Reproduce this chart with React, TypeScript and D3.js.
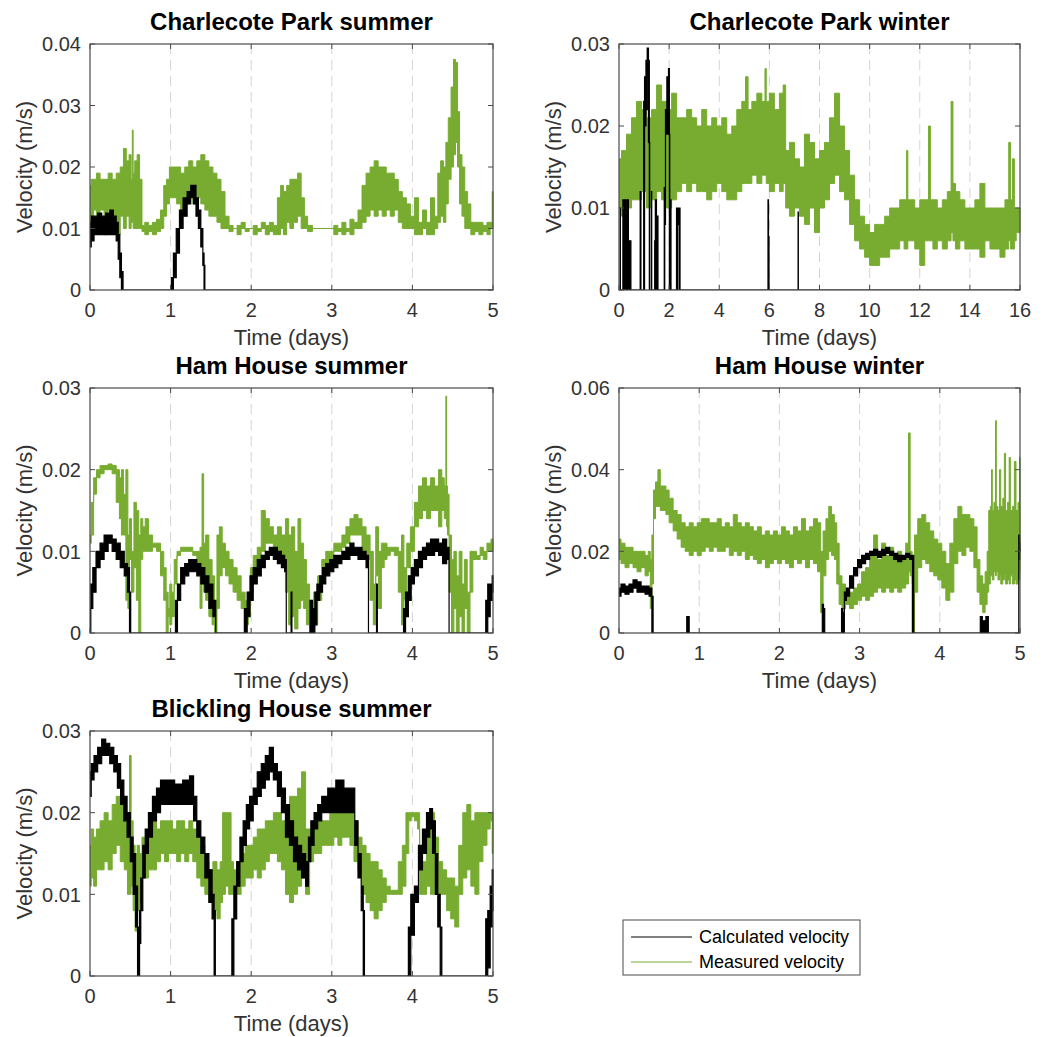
import React from 'react';
import * as d3 from 'd3';

// each row: [time (days), low velocity, high velocity] of the trace band (m/s)
const charlecoteSummerMeasured = [
  [0, 0.010, 0.017], [0.03, 0.012, 0.018], [0.06, 0.013, 0.018], [0.1, 0.012, 0.019], [0.15, 0.013, 0.018],
  [0.2, 0.009, 0.018], [0.25, 0.013, 0.019], [0.3, 0.012, 0.018], [0.35, 0.009, 0.019], [0.4, 0.012, 0.020],
  [0.43, 0.010, 0.023], [0.47, 0.012, 0.021], [0.5, 0.010, 0.022], [0.52, 0.011, 0.018], [0.53, 0.011, 0.026],
  [0.54, 0.010, 0.019], [0.57, 0.010, 0.021], [0.6, 0.010, 0.022], [0.63, 0.010, 0.018], [0.66, 0.0095, 0.0105],
  [0.7, 0.009, 0.011], [0.75, 0.0095, 0.0105], [0.8, 0.009, 0.011], [0.85, 0.0095, 0.0115], [0.9, 0.010, 0.013],
  [0.93, 0.012, 0.017], [0.97, 0.014, 0.018], [1.0, 0.015, 0.020], [1.05, 0.015, 0.020], [1.1, 0.014, 0.020],
  [1.15, 0.013, 0.019], [1.2, 0.014, 0.020], [1.25, 0.015, 0.021], [1.3, 0.014, 0.020], [1.35, 0.015, 0.021],
  [1.4, 0.014, 0.022], [1.45, 0.013, 0.021], [1.5, 0.012, 0.020], [1.55, 0.012, 0.019], [1.6, 0.011, 0.018],
  [1.65, 0.010, 0.016], [1.7, 0.010, 0.012], [1.75, 0.0095, 0.0105], [1.8, 0.010, 0.010], [1.85, 0.009, 0.0105],
  [1.9, 0.010, 0.011], [1.95, 0.0095, 0.010], [2.0, 0.010, 0.010], [2.05, 0.009, 0.0105], [2.1, 0.0095, 0.010],
  [2.15, 0.010, 0.011], [2.2, 0.009, 0.0105], [2.25, 0.0095, 0.011], [2.3, 0.009, 0.0105], [2.35, 0.009, 0.015],
  [2.38, 0.010, 0.017], [2.42, 0.009, 0.016], [2.46, 0.011, 0.017], [2.5, 0.010, 0.018], [2.55, 0.011, 0.018],
  [2.6, 0.012, 0.019], [2.64, 0.010, 0.015], [2.68, 0.010, 0.012], [2.72, 0.0095, 0.0105], [2.8, 0.010, 0.010],
  [2.9, 0.010, 0.010], [3.0, 0.010, 0.010], [3.05, 0.009, 0.0105], [3.1, 0.0095, 0.010], [3.15, 0.009, 0.011],
  [3.2, 0.0095, 0.010], [3.25, 0.009, 0.0115], [3.3, 0.010, 0.011], [3.35, 0.010, 0.013], [3.4, 0.011, 0.017],
  [3.45, 0.012, 0.019], [3.5, 0.013, 0.020], [3.55, 0.012, 0.021], [3.6, 0.013, 0.020], [3.65, 0.012, 0.020],
  [3.7, 0.013, 0.019], [3.75, 0.012, 0.019], [3.8, 0.013, 0.018], [3.85, 0.011, 0.016], [3.9, 0.010, 0.015],
  [3.95, 0.010, 0.014], [4.0, 0.010, 0.012], [4.05, 0.009, 0.015], [4.1, 0.009, 0.011], [4.15, 0.010, 0.013],
  [4.2, 0.009, 0.011], [4.25, 0.009, 0.015], [4.3, 0.010, 0.012], [4.33, 0.011, 0.019], [4.37, 0.012, 0.021],
  [4.4, 0.011, 0.020], [4.43, 0.014, 0.024], [4.46, 0.018, 0.028], [4.5, 0.020, 0.033], [4.52, 0.022, 0.0375],
  [4.55, 0.024, 0.037], [4.57, 0.020, 0.029], [4.6, 0.014, 0.022], [4.63, 0.012, 0.020], [4.67, 0.010, 0.016],
  [4.7, 0.010, 0.014], [4.75, 0.009, 0.011], [4.8, 0.0095, 0.011], [4.85, 0.009, 0.011], [4.9, 0.0095, 0.0105],
  [4.95, 0.009, 0.011], [4.98, 0.010, 0.011], [5.0, 0.010, 0.016],
];

const charlecoteSummerCalculated = [
  [0, 0.007, 0.011], [0.03, 0.008, 0.012], [0.07, 0.009, 0.012], [0.12, 0.009, 0.0125], [0.17, 0.009, 0.012],
  [0.22, 0.009, 0.0125], [0.27, 0.009, 0.013], [0.31, 0.009, 0.012], [0.34, 0.008, 0.011], [0.36, 0.005, 0.009],
  [0.38, 0.002, 0.006], [0.4, 0, 0.003], [0.42, 0, 0], [1.0, 0, 0], [1.02, 0, 0.002], [1.05, 0.002, 0.006],
  [1.09, 0.006, 0.010], [1.13, 0.010, 0.013], [1.18, 0.012, 0.015], [1.23, 0.014, 0.016], [1.27, 0.015, 0.017],
  [1.3, 0.014, 0.017], [1.33, 0.012, 0.015], [1.36, 0.010, 0.013], [1.39, 0.007, 0.010], [1.41, 0.004, 0.006],
  [1.42, 0, 0.004], [1.43, 0, 0], [5, 0, 0],
];

const charlecoteWinterMeasured = [
  [0, 0.010, 0.016], [0.2, 0.009, 0.017], [0.4, 0.010, 0.019], [0.6, 0.011, 0.021], [0.8, 0.011, 0.023],
  [1.0, 0.012, 0.022], [1.2, 0.010, 0.021], [1.4, 0.011, 0.022], [1.6, 0.012, 0.025], [1.8, 0.011, 0.023],
  [2.0, 0.010, 0.022], [2.2, 0.011, 0.024], [2.4, 0.012, 0.021], [2.6, 0.013, 0.021], [2.8, 0.012, 0.022],
  [3.0, 0.013, 0.021], [3.2, 0.012, 0.020], [3.4, 0.012, 0.022], [3.6, 0.011, 0.020], [3.8, 0.012, 0.021],
  [4.0, 0.013, 0.020], [4.2, 0.012, 0.021], [4.4, 0.011, 0.019], [4.6, 0.011, 0.020], [4.8, 0.012, 0.022],
  [5.0, 0.013, 0.023], [5.1, 0.013, 0.026], [5.2, 0.013, 0.022], [5.4, 0.014, 0.023], [5.6, 0.013, 0.024],
  [5.8, 0.014, 0.023], [5.85, 0.014, 0.027], [5.9, 0.013, 0.023], [6.1, 0.012, 0.024], [6.3, 0.013, 0.022],
  [6.5, 0.012, 0.024], [6.6, 0.013, 0.025], [6.7, 0.010, 0.017], [6.9, 0.009, 0.018], [7.1, 0.010, 0.016],
  [7.3, 0.009, 0.015], [7.5, 0.008, 0.019], [7.7, 0.010, 0.018], [7.9, 0.007, 0.016], [8.1, 0.010, 0.017],
  [8.3, 0.011, 0.018], [8.5, 0.013, 0.021], [8.7, 0.014, 0.024], [8.9, 0.012, 0.020], [9.1, 0.011, 0.017],
  [9.3, 0.008, 0.014], [9.5, 0.006, 0.011], [9.7, 0.005, 0.009], [9.9, 0.004, 0.008], [10.1, 0.003, 0.007],
  [10.3, 0.003, 0.008], [10.5, 0.004, 0.008], [10.7, 0.004, 0.009], [10.9, 0.005, 0.010], [11.1, 0.005, 0.010],
  [11.3, 0.006, 0.011], [11.45, 0.005, 0.011], [11.5, 0.005, 0.017], [11.55, 0.006, 0.011], [11.7, 0.006, 0.011],
  [11.9, 0.005, 0.010], [12.1, 0.003, 0.011], [12.3, 0.006, 0.011], [12.4, 0.006, 0.020], [12.45, 0.006, 0.011],
  [12.6, 0.005, 0.011], [12.8, 0.006, 0.010], [13.0, 0.005, 0.011], [13.2, 0.006, 0.012], [13.3, 0.007, 0.023],
  [13.35, 0.006, 0.013], [13.5, 0.005, 0.012], [13.7, 0.006, 0.011], [13.9, 0.005, 0.010], [14.1, 0.005, 0.010],
  [14.3, 0.005, 0.011], [14.5, 0.004, 0.013], [14.7, 0.006, 0.010], [14.9, 0.005, 0.010], [15.1, 0.005, 0.010],
  [15.3, 0.004, 0.010], [15.5, 0.005, 0.011], [15.6, 0.006, 0.018], [15.65, 0.005, 0.011], [15.75, 0.005, 0.016],
  [15.8, 0.006, 0.010], [15.9, 0.007, 0.010], [16, 0.007, 0.010],
];

const charlecoteWinterCalculated = [
  [0, 0, 0], [0.04, 0, 0], [0.05, 0, 0.010], [0.06, 0, 0], [0.15, 0, 0], [0.16, 0, 0.011], [0.2, 0, 0.008],
  [0.25, 0, 0.011], [0.3, 0, 0.009], [0.35, 0, 0.011], [0.4, 0, 0.006], [0.47, 0, 0.006], [0.48, 0, 0],
  [0.84, 0, 0], [0.85, 0, 0.012], [0.87, 0.008, 0.012], [0.88, 0, 0], [0.98, 0, 0], [0.99, 0, 0.023],
  [1.05, 0.020, 0.026], [1.1, 0.022, 0.028], [1.15, 0.026, 0.0295], [1.2, 0.018, 0.028], [1.22, 0, 0.018],
  [1.23, 0, 0], [1.29, 0, 0], [1.3, 0, 0.012], [1.31, 0, 0], [1.42, 0, 0], [1.43, 0, 0.006], [1.47, 0, 0.011],
  [1.52, 0, 0.009], [1.55, 0, 0.009], [1.56, 0, 0], [1.8, 0, 0], [1.81, 0, 0.0125], [1.84, 0.008, 0.0125],
  [1.87, 0.019, 0.022], [1.95, 0.019, 0.026], [2.0, 0.019, 0.027], [2.02, 0, 0.019], [2.03, 0, 0],
  [2.06, 0, 0], [2.07, 0, 0.011], [2.08, 0, 0], [2.29, 0, 0], [2.3, 0, 0.010], [2.38, 0.008, 0.010],
  [2.43, 0, 0.010], [2.44, 0, 0], [5.94, 0, 0], [5.95, 0, 0.011], [5.98, 0, 0.0065], [5.99, 0, 0],
  [7.14, 0, 0], [7.15, 0, 0.0095], [7.16, 0, 0], [16, 0, 0],
];

const hamSummerMeasured = [
  [0, 0.011, 0.012], [0.03, 0.012, 0.016], [0.06, 0.017, 0.019], [0.1, 0.019, 0.020], [0.15, 0.0195, 0.0205],
  [0.2, 0.020, 0.0205], [0.25, 0.020, 0.0207], [0.3, 0.0195, 0.0205], [0.35, 0.016, 0.020], [0.38, 0.014, 0.019],
  [0.4, 0.012, 0.020], [0.43, 0.012, 0.017], [0.46, 0.004, 0.020], [0.48, 0.003, 0.012], [0.5, 0.009, 0.014],
  [0.53, 0.005, 0.010], [0.56, 0.008, 0.016], [0.59, 0.004, 0.015], [0.62, 0, 0.012], [0.64, 0.009, 0.014],
  [0.67, 0.010, 0.013], [0.7, 0.010, 0.014], [0.75, 0.010, 0.012], [0.8, 0.0105, 0.011], [0.85, 0.010, 0.011],
  [0.9, 0.007, 0.010], [0.93, 0.004, 0.008], [0.96, 0, 0.005], [0.98, 0.002, 0.003], [1.0, 0.001, 0.006],
  [1.03, 0.002, 0.005], [1.06, 0.006, 0.009], [1.1, 0.0095, 0.010], [1.15, 0.010, 0.0105], [1.2, 0.010, 0.0105],
  [1.25, 0.010, 0.0105], [1.3, 0.0095, 0.010], [1.35, 0.008, 0.010], [1.38, 0.003, 0.0105], [1.4, 0.008, 0.0195],
  [1.42, 0.005, 0.011], [1.45, 0.004, 0.012], [1.5, 0.002, 0.009], [1.53, 0.001, 0.007], [1.56, 0, 0.004],
  [1.59, 0.003, 0.012], [1.62, 0.007, 0.013], [1.66, 0.008, 0.011], [1.7, 0.007, 0.010], [1.75, 0.006, 0.009],
  [1.8, 0.005, 0.008], [1.85, 0.004, 0.007], [1.9, 0.003, 0.005], [1.95, 0.001, 0.004], [1.98, 0.002, 0.005],
  [2.0, 0.005, 0.008], [2.05, 0.007, 0.0095], [2.1, 0.009, 0.0105], [2.15, 0.010, 0.015], [2.2, 0.011, 0.014],
  [2.25, 0.011, 0.013], [2.3, 0.010, 0.012], [2.35, 0.010, 0.013], [2.4, 0.009, 0.012], [2.45, 0.005, 0.014],
  [2.48, 0.001, 0.012], [2.52, 0.002, 0.013], [2.56, 0.0005, 0.010], [2.6, 0.003, 0.014], [2.63, 0.004, 0.011],
  [2.67, 0.003, 0.009], [2.7, 0.001, 0.006], [2.75, 0, 0.004], [2.8, 0.001, 0.005], [2.85, 0.004, 0.007],
  [2.9, 0.007, 0.009], [2.95, 0.008, 0.010], [3.0, 0.009, 0.010], [3.05, 0.010, 0.011], [3.1, 0.010, 0.011],
  [3.15, 0.0105, 0.012], [3.2, 0.011, 0.013], [3.25, 0.012, 0.014], [3.3, 0.012, 0.0145], [3.35, 0.012, 0.014],
  [3.4, 0.010, 0.013], [3.45, 0.009, 0.012], [3.5, 0.004, 0.010], [3.53, 0.001, 0.006], [3.56, 0.007, 0.013],
  [3.6, 0.003, 0.010], [3.63, 0.008, 0.011], [3.67, 0.009, 0.011], [3.7, 0.0095, 0.0105], [3.75, 0.010, 0.0105],
  [3.8, 0.0095, 0.0105], [3.85, 0.005, 0.010], [3.88, 0.001, 0.012], [3.91, 0.004, 0.008], [3.95, 0.008, 0.011],
  [4.0, 0.010, 0.013], [4.05, 0.013, 0.016], [4.1, 0.014, 0.018], [4.15, 0.015, 0.019], [4.2, 0.014, 0.018],
  [4.25, 0.015, 0.019], [4.3, 0.015, 0.018], [4.35, 0.013, 0.020], [4.38, 0.015, 0.019], [4.41, 0.014, 0.018],
  [4.42, 0.014, 0.029], [4.43, 0.013, 0.018], [4.44, 0.012, 0.017], [4.47, 0.005, 0.012], [4.5, 0, 0.009],
  [4.53, 0.003, 0.010], [4.56, 0, 0.007], [4.6, 0.002, 0.010], [4.63, 0, 0.006], [4.66, 0.003, 0.009],
  [4.7, 0, 0.005], [4.73, 0.005, 0.010], [4.77, 0.009, 0.010], [4.82, 0.009, 0.0095], [4.86, 0.0095, 0.0105],
  [4.9, 0.009, 0.010], [4.95, 0.010, 0.011], [5.0, 0.010, 0.0115],
];

const hamSummerCalculated = [
  [0, 0, 0.003], [0.02, 0.003, 0.006], [0.05, 0.005, 0.008], [0.1, 0.008, 0.010], [0.15, 0.009, 0.011],
  [0.2, 0.010, 0.012], [0.25, 0.011, 0.012], [0.3, 0.010, 0.0115], [0.35, 0.009, 0.011], [0.4, 0.008, 0.010],
  [0.45, 0.007, 0.0085], [0.48, 0.005, 0.008], [0.5, 0, 0.005], [0.51, 0, 0], [1.05, 0, 0], [1.07, 0, 0.004],
  [1.1, 0.004, 0.006], [1.15, 0.006, 0.008], [1.2, 0.007, 0.0085], [1.25, 0.0075, 0.009], [1.3, 0.0075, 0.009],
  [1.35, 0.007, 0.0085], [1.4, 0.006, 0.008], [1.45, 0.005, 0.007], [1.5, 0.003, 0.006], [1.55, 0.002, 0.004],
  [1.57, 0, 0], [1.9, 0, 0], [1.93, 0, 0.003], [1.97, 0.002, 0.005], [2.0, 0.004, 0.007], [2.05, 0.006, 0.008],
  [2.1, 0.007, 0.009], [2.15, 0.008, 0.0095], [2.2, 0.009, 0.010], [2.25, 0.0095, 0.0105], [2.3, 0.009, 0.0105],
  [2.35, 0.0085, 0.010], [2.4, 0.008, 0.0095], [2.43, 0.0075, 0.009], [2.44, 0, 0], [2.49, 0, 0],
  [2.5, 0.003, 0.005], [2.51, 0, 0], [2.72, 0, 0], [2.74, 0, 0.004], [2.78, 0, 0.003], [2.8, 0.001, 0.005],
  [2.83, 0.004, 0.006], [2.87, 0.005, 0.007], [2.9, 0.006, 0.008], [2.95, 0.007, 0.0085], [3.0, 0.0075, 0.009],
  [3.05, 0.008, 0.0095], [3.1, 0.0085, 0.0095], [3.15, 0.009, 0.010], [3.2, 0.009, 0.0105], [3.25, 0.0095, 0.011],
  [3.3, 0.0095, 0.0105], [3.35, 0.009, 0.0105], [3.4, 0.009, 0.010], [3.45, 0.008, 0.0095], [3.46, 0, 0],
  [3.55, 0, 0], [3.56, 0, 0.006], [3.57, 0, 0], [3.88, 0, 0], [3.9, 0, 0.003], [3.93, 0.002, 0.005],
  [3.97, 0.004, 0.007], [4.0, 0.006, 0.008], [4.05, 0.007, 0.009], [4.1, 0.008, 0.010], [4.15, 0.009, 0.0105],
  [4.2, 0.0095, 0.011], [4.25, 0.0095, 0.0115], [4.3, 0.010, 0.0115], [4.35, 0.0095, 0.011], [4.4, 0.0085, 0.0115],
  [4.45, 0.009, 0.0105], [4.46, 0, 0], [4.9, 0, 0], [4.92, 0, 0.004], [4.95, 0.002, 0.006], [4.98, 0.004, 0.006],
  [5.0, 0.005, 0.007],
];

const hamWinterMeasured = [
  [0, 0.018, 0.023], [0.05, 0.017, 0.022], [0.1, 0.016, 0.021], [0.15, 0.017, 0.021], [0.2, 0.016, 0.020],
  [0.25, 0.015, 0.020], [0.3, 0.016, 0.020], [0.35, 0.014, 0.019], [0.38, 0.015, 0.020], [0.4, 0.006, 0.018],
  [0.42, 0.012, 0.024], [0.44, 0.028, 0.035], [0.47, 0.031, 0.037], [0.5, 0.031, 0.040], [0.53, 0.030, 0.036],
  [0.57, 0.030, 0.036], [0.6, 0.029, 0.035], [0.65, 0.027, 0.033], [0.7, 0.025, 0.030], [0.75, 0.023, 0.029],
  [0.8, 0.021, 0.027], [0.85, 0.020, 0.026], [0.9, 0.019, 0.027], [0.95, 0.020, 0.026], [1.0, 0.019, 0.027],
  [1.05, 0.020, 0.028], [1.1, 0.021, 0.028], [1.15, 0.020, 0.027], [1.2, 0.021, 0.027], [1.25, 0.020, 0.028],
  [1.3, 0.020, 0.026], [1.35, 0.021, 0.027], [1.4, 0.019, 0.026], [1.45, 0.020, 0.029], [1.5, 0.019, 0.027],
  [1.55, 0.020, 0.026], [1.6, 0.018, 0.027], [1.65, 0.019, 0.026], [1.7, 0.018, 0.025], [1.75, 0.017, 0.026],
  [1.8, 0.018, 0.024], [1.85, 0.016, 0.025], [1.9, 0.017, 0.024], [1.95, 0.018, 0.025], [2.0, 0.017, 0.024],
  [2.05, 0.018, 0.026], [2.1, 0.017, 0.025], [2.15, 0.016, 0.024], [2.2, 0.018, 0.026], [2.25, 0.017, 0.025],
  [2.3, 0.018, 0.028], [2.35, 0.016, 0.025], [2.4, 0.018, 0.026], [2.45, 0.017, 0.028], [2.5, 0.015, 0.027],
  [2.53, 0.005, 0.020], [2.56, 0.014, 0.025], [2.6, 0.018, 0.028], [2.63, 0.020, 0.031], [2.67, 0.019, 0.029],
  [2.7, 0.018, 0.027], [2.73, 0.012, 0.022], [2.76, 0.007, 0.014], [2.8, 0.006, 0.012], [2.85, 0.007, 0.010],
  [2.9, 0.006, 0.010], [2.95, 0.007, 0.011], [3.0, 0.008, 0.012], [3.05, 0.009, 0.015], [3.1, 0.008, 0.016],
  [3.15, 0.009, 0.020], [3.2, 0.010, 0.024], [3.25, 0.011, 0.018], [3.3, 0.010, 0.022], [3.35, 0.011, 0.019],
  [3.4, 0.010, 0.021], [3.45, 0.011, 0.019], [3.5, 0.010, 0.020], [3.55, 0.011, 0.018], [3.6, 0.012, 0.022],
  [3.62, 0.015, 0.049], [3.64, 0.014, 0.020], [3.67, 0, 0.012], [3.7, 0.010, 0.024], [3.75, 0.016, 0.028],
  [3.8, 0.018, 0.029], [3.85, 0.017, 0.027], [3.9, 0.015, 0.025], [3.95, 0.014, 0.023], [4.0, 0.013, 0.022],
  [4.05, 0.011, 0.020], [4.1, 0.008, 0.017], [4.15, 0.010, 0.022], [4.2, 0.017, 0.028], [4.25, 0.020, 0.031],
  [4.3, 0.019, 0.029], [4.35, 0.021, 0.029], [4.4, 0.020, 0.028], [4.45, 0.016, 0.026], [4.48, 0.010, 0.018],
  [4.52, 0.007, 0.014], [4.55, 0.005, 0.012], [4.58, 0.007, 0.015], [4.6, 0.010, 0.020], [4.62, 0.012, 0.030],
  [4.64, 0.014, 0.031], [4.65, 0.014, 0.040], [4.66, 0.013, 0.030], [4.69, 0.015, 0.032], [4.7, 0.014, 0.052],
  [4.71, 0.015, 0.031], [4.74, 0.013, 0.030], [4.75, 0.014, 0.040], [4.77, 0.012, 0.031], [4.8, 0.013, 0.033],
  [4.81, 0.014, 0.044], [4.83, 0.012, 0.030], [4.86, 0.013, 0.032], [4.87, 0.012, 0.043], [4.89, 0.014, 0.030],
  [4.92, 0.012, 0.031], [4.94, 0.013, 0.042], [4.96, 0.012, 0.030], [4.99, 0.013, 0.032], [5.0, 0.015, 0.043],
];

const hamWinterCalculated = [
  [0, 0.009, 0.011], [0.05, 0.010, 0.012], [0.1, 0.0095, 0.0115], [0.15, 0.010, 0.012], [0.2, 0.011, 0.013],
  [0.25, 0.010, 0.0125], [0.3, 0.010, 0.0115], [0.35, 0.0095, 0.0115], [0.4, 0.009, 0.011], [0.42, 0, 0.009],
  [0.43, 0, 0], [0.84, 0, 0], [0.85, 0, 0.004], [0.87, 0, 0.004], [0.88, 0, 0], [2.53, 0, 0], [2.54, 0, 0.007],
  [2.56, 0, 0.006], [2.57, 0, 0], [2.77, 0, 0], [2.78, 0, 0.006], [2.8, 0, 0.005], [2.82, 0.008, 0.010],
  [2.85, 0.009, 0.011], [2.9, 0.011, 0.014], [2.95, 0.014, 0.016], [3.0, 0.016, 0.018], [3.05, 0.017, 0.019],
  [3.1, 0.018, 0.0195], [3.15, 0.019, 0.020], [3.2, 0.019, 0.0205], [3.25, 0.0185, 0.020], [3.3, 0.019, 0.0205],
  [3.35, 0.0195, 0.021], [3.4, 0.019, 0.020], [3.45, 0.018, 0.0195], [3.5, 0.0175, 0.019], [3.55, 0.018, 0.019],
  [3.6, 0.0185, 0.0195], [3.65, 0.018, 0.019], [3.67, 0, 0.019], [3.68, 0, 0], [4.5, 0, 0], [4.51, 0, 0.004],
  [4.55, 0, 0.003], [4.6, 0, 0.004], [4.61, 0, 0], [4.98, 0, 0], [4.99, 0.018, 0.024], [5.0, 0.020, 0.022],
];

const blicklingSummerMeasured = [
  [0, 0.011, 0.016], [0.03, 0.012, 0.018], [0.06, 0.011, 0.017], [0.1, 0.013, 0.018], [0.15, 0.013, 0.019],
  [0.2, 0.014, 0.020], [0.25, 0.013, 0.019], [0.3, 0.015, 0.021], [0.35, 0.016, 0.022], [0.4, 0.014, 0.021],
  [0.45, 0.013, 0.020], [0.48, 0.010, 0.019], [0.5, 0.010, 0.027], [0.52, 0.011, 0.019], [0.55, 0.008, 0.016],
  [0.57, 0.0055, 0.015], [0.6, 0.008, 0.016], [0.63, 0.009, 0.015], [0.66, 0.012, 0.017], [0.7, 0.012, 0.016],
  [0.75, 0.013, 0.018], [0.8, 0.013, 0.019], [0.85, 0.014, 0.018], [0.9, 0.015, 0.019], [0.95, 0.014, 0.019],
  [1.0, 0.015, 0.019], [1.05, 0.015, 0.018], [1.1, 0.014, 0.019], [1.15, 0.015, 0.019], [1.2, 0.014, 0.018],
  [1.25, 0.015, 0.019], [1.3, 0.014, 0.018], [1.35, 0.012, 0.017], [1.4, 0.011, 0.016], [1.45, 0.010, 0.014],
  [1.5, 0.009, 0.013], [1.55, 0.008, 0.014], [1.6, 0.007, 0.013], [1.63, 0.009, 0.014], [1.66, 0.010, 0.020],
  [1.7, 0.011, 0.020], [1.74, 0.010, 0.020], [1.76, 0.010, 0.014], [1.8, 0.010, 0.013], [1.85, 0.010, 0.014],
  [1.9, 0.011, 0.015], [1.95, 0.012, 0.016], [2.0, 0.012, 0.016], [2.05, 0.013, 0.017], [2.1, 0.012, 0.018],
  [2.15, 0.013, 0.018], [2.2, 0.014, 0.019], [2.25, 0.015, 0.019], [2.3, 0.015, 0.020], [2.35, 0.014, 0.020],
  [2.4, 0.013, 0.019], [2.45, 0.010, 0.017], [2.5, 0.009, 0.022], [2.55, 0.010, 0.022], [2.6, 0.011, 0.023],
  [2.65, 0.012, 0.025], [2.7, 0.010, 0.018], [2.75, 0.014, 0.018], [2.8, 0.015, 0.018], [2.85, 0.015, 0.019],
  [2.9, 0.016, 0.019], [2.95, 0.016, 0.019], [3.0, 0.016, 0.020], [3.05, 0.017, 0.020], [3.1, 0.016, 0.020],
  [3.15, 0.017, 0.020], [3.2, 0.017, 0.020], [3.25, 0.016, 0.020], [3.3, 0.014, 0.019], [3.35, 0.013, 0.017],
  [3.4, 0.010, 0.016], [3.45, 0.009, 0.015], [3.5, 0.008, 0.014], [3.55, 0.007, 0.014], [3.6, 0.008, 0.013],
  [3.65, 0.009, 0.012], [3.7, 0.010, 0.011], [3.75, 0.010, 0.0105], [3.8, 0.010, 0.0105], [3.85, 0.010, 0.014],
  [3.9, 0.011, 0.016], [3.94, 0.015, 0.020], [3.97, 0.019, 0.020], [4.0, 0.0195, 0.020], [4.05, 0.019, 0.020],
  [4.08, 0.018, 0.020], [4.1, 0.010, 0.015], [4.15, 0.010, 0.014], [4.2, 0.011, 0.019], [4.25, 0.010, 0.020],
  [4.3, 0.011, 0.017], [4.35, 0.010, 0.014], [4.4, 0.010, 0.013], [4.45, 0.008, 0.012], [4.5, 0.007, 0.012],
  [4.55, 0.006, 0.011], [4.6, 0.010, 0.016], [4.65, 0.012, 0.020], [4.7, 0.013, 0.021], [4.75, 0.011, 0.019],
  [4.8, 0.010, 0.020], [4.85, 0.014, 0.020], [4.9, 0.016, 0.020], [4.95, 0.018, 0.020], [4.98, 0.019, 0.020],
  [5.0, 0.015, 0.020],
];

const blicklingSummerCalculated = [
  [0, 0.022, 0.025], [0.03, 0.024, 0.026], [0.07, 0.025, 0.027], [0.12, 0.026, 0.028], [0.17, 0.027, 0.029],
  [0.22, 0.027, 0.0285], [0.27, 0.026, 0.028], [0.32, 0.025, 0.027], [0.36, 0.023, 0.026], [0.4, 0.021, 0.024],
  [0.44, 0.019, 0.022], [0.48, 0.017, 0.020], [0.52, 0.014, 0.017], [0.55, 0.010, 0.015], [0.58, 0.006, 0.011],
  [0.6, 0, 0.006], [0.61, 0, 0], [0.62, 0.004, 0.008], [0.64, 0.008, 0.012], [0.67, 0.012, 0.016],
  [0.7, 0.015, 0.018], [0.75, 0.017, 0.020], [0.8, 0.019, 0.022], [0.85, 0.020, 0.023], [0.9, 0.021, 0.024],
  [1.0, 0.021, 0.024], [1.1, 0.021, 0.0235], [1.2, 0.021, 0.024], [1.27, 0.021, 0.0245], [1.3, 0.019, 0.022],
  [1.35, 0.017, 0.019], [1.4, 0.015, 0.017], [1.45, 0.012, 0.015], [1.5, 0.009, 0.013], [1.53, 0.007, 0.010],
  [1.55, 0, 0.008], [1.56, 0, 0], [1.75, 0, 0], [1.77, 0, 0.007], [1.8, 0.007, 0.011], [1.84, 0.011, 0.014],
  [1.88, 0.014, 0.017], [1.92, 0.016, 0.019], [1.96, 0.018, 0.021], [2.0, 0.019, 0.022], [2.05, 0.021, 0.023],
  [2.1, 0.022, 0.025], [2.15, 0.023, 0.026], [2.2, 0.024, 0.027], [2.25, 0.025, 0.028], [2.3, 0.024, 0.026],
  [2.35, 0.022, 0.025], [2.4, 0.020, 0.023], [2.45, 0.017, 0.021], [2.5, 0.016, 0.019], [2.55, 0.014, 0.017],
  [2.6, 0.013, 0.016], [2.65, 0.012, 0.015], [2.7, 0.011, 0.014], [2.72, 0.014, 0.017], [2.76, 0.016, 0.019],
  [2.8, 0.018, 0.020], [2.85, 0.019, 0.021], [2.9, 0.020, 0.022], [3.0, 0.020, 0.023], [3.1, 0.020, 0.024],
  [3.2, 0.020, 0.023], [3.27, 0.020, 0.023], [3.3, 0.016, 0.019], [3.35, 0.012, 0.015], [3.38, 0.008, 0.011],
  [3.4, 0, 0.008], [3.41, 0, 0], [3.94, 0, 0], [3.96, 0, 0.006], [4.0, 0.005, 0.010], [4.05, 0.009, 0.011],
  [4.1, 0.013, 0.016], [4.15, 0.015, 0.018], [4.2, 0.017, 0.020], [4.23, 0.018, 0.0205], [4.27, 0.015, 0.019],
  [4.3, 0.010, 0.015], [4.33, 0.006, 0.010], [4.36, 0, 0.006], [4.37, 0, 0], [4.9, 0, 0], [4.92, 0, 0.007],
  [4.95, 0.001, 0.008], [4.98, 0.006, 0.011], [5.0, 0.008, 0.013],
];

const panelTitles = ['Charlecote Park summer', 'Charlecote Park winter', 'Ham House summer', 'Ham House winter', 'Blickling House summer'];
const legendLabels = ['Calculated velocity', 'Measured velocity'];

const FONT = "'Liberation Sans', Arial, Helvetica, sans-serif";
const GREEN = '#77ac30';
const BLACK = '#000000';

function Panel({ title, left, top, width, height, xMax, xStep, yMax, yStep, measured, calculated, id }) {
  const x = d3.scaleLinear().domain([0, xMax]).range([left, left + width]);
  const y = d3.scaleLinear().domain([0, yMax]).range([top + height, top]);
  // step curve gives the jagged, vertical-edged look of the dense logger traces
  const band = d3.area().curve(d3.curveStep).x(d => x(d[0])).y0(d => y(d[1])).y1(d => y(d[2]));
  const xTicks = d3.range(0, xMax + 1e-9, xStep);
  const yTicks = d3.range(0, yMax + 1e-9, yStep).map(v => +v.toFixed(3));
  const yFmt = v => (v === 0 ? '0' : d3.format('.2f')(v));
  const axisColor = '#4a4a4a';
  const tickLen = 5;

  return (
    <g>
      <defs>
        <clipPath id={id}>
          <rect x={left} y={top - 1} width={width + 1} height={height + 1} />
        </clipPath>
      </defs>
      {xTicks.slice(1, -1).map(t => (
        <line key={'g' + t} x1={x(t)} x2={x(t)} y1={top} y2={top + height}
          stroke="#d4d4d4" strokeWidth={1} strokeDasharray="10,6" />
      ))}
      <g clipPath={`url(#${id})`}>
        <path d={band(measured)} fill={GREEN} stroke={GREEN} strokeWidth={1} />
        <path d={band(calculated)} fill={BLACK} stroke={BLACK} strokeWidth={1.2} />
      </g>
      <rect x={left} y={top} width={width} height={height} fill="none" stroke={axisColor} strokeWidth={1.2} />
      {xTicks.map(t => (
        <g key={'x' + t}>
          <line x1={x(t)} x2={x(t)} y1={top + height} y2={top + height - tickLen} stroke={axisColor} />
          <line x1={x(t)} x2={x(t)} y1={top} y2={top + tickLen} stroke={axisColor} />
          <text x={x(t)} y={top + height + 27} textAnchor="middle" fontSize={20} fill="#333">{t}</text>
        </g>
      ))}
      {yTicks.map(t => (
        <g key={'y' + t}>
          <line x1={left} x2={left + tickLen} y1={y(t)} y2={y(t)} stroke={axisColor} />
          <line x1={left + width} x2={left + width - tickLen} y1={y(t)} y2={y(t)} stroke={axisColor} />
          <text x={left - 9} y={y(t)} dy="0.36em" textAnchor="end" fontSize={20} fill="#333">{yFmt(t)}</text>
        </g>
      ))}
      <text x={left + width / 2} y={top - 14} textAnchor="middle" fontSize={24} fontWeight="bold" fill="#000">{title}</text>
      <text x={left + width / 2} y={top + height + 55} textAnchor="middle" fontSize={22} fill="#333">Time (days)</text>
      <text transform={`translate(${left - 66},${top + height / 2}) rotate(-90)`} dy="0.36em"
        textAnchor="middle" fontSize={22} fill="#333">Velocity (m/s)</text>
    </g>
  );
}

export default function App() {
  const lx = 623, ly = 920;
  return (
    <svg width={1049} height={1037} style={{ position: 'absolute', left: 0, top: 0, background: '#fff' }}
      fontFamily={FONT}>
      <Panel id="c1" title={panelTitles[0]} left={90} top={44} width={403} height={246} xMax={5} xStep={1}
        yMax={0.04} yStep={0.01} measured={charlecoteSummerMeasured} calculated={charlecoteSummerCalculated} />
      <Panel id="c2" title={panelTitles[1]} left={619} top={44} width={401} height={246} xMax={16} xStep={2}
        yMax={0.03} yStep={0.01} measured={charlecoteWinterMeasured} calculated={charlecoteWinterCalculated} />
      <Panel id="c3" title={panelTitles[2]} left={90} top={388} width={403} height={245} xMax={5} xStep={1}
        yMax={0.03} yStep={0.01} measured={hamSummerMeasured} calculated={hamSummerCalculated} />
      <Panel id="c4" title={panelTitles[3]} left={619} top={388} width={401} height={245} xMax={5} xStep={1}
        yMax={0.06} yStep={0.02} measured={hamWinterMeasured} calculated={hamWinterCalculated} />
      <Panel id="c5" title={panelTitles[4]} left={90} top={731} width={403} height={245} xMax={5} xStep={1}
        yMax={0.03} yStep={0.01} measured={blicklingSummerMeasured} calculated={blicklingSummerCalculated} />

      <g>
        <rect x={lx} y={ly} width={237} height={55} fill="#fff" stroke="#4a4a4a" strokeWidth={1} />
        <line x1={lx + 8} x2={lx + 69} y1={ly + 17} y2={ly + 17} stroke={BLACK} strokeWidth={1} />
        <line x1={lx + 8} x2={lx + 69} y1={ly + 42} y2={ly + 42} stroke={GREEN} strokeWidth={1} />
        <text x={lx + 76} y={ly + 17} dy="0.36em" fontSize={18} fill="#000">{legendLabels[0]}</text>
        <text x={lx + 76} y={ly + 42} dy="0.36em" fontSize={18} fill="#000">{legendLabels[1]}</text>
      </g>
    </svg>
  );
}
